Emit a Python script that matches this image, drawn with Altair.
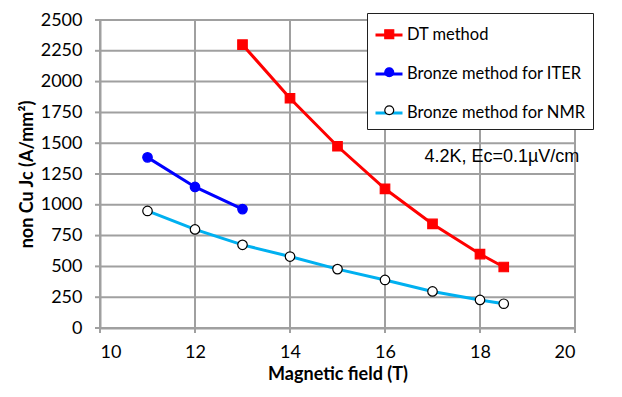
import altair as alt
import pandas as pd

# ---- data ----
series_names = ["DT method", "Bronze method for ITER", "Bronze method for NMR"]
dt_field = [13, 14, 15, 16, 17, 18, 18.5]
dt_jc = [2300, 1865, 1475, 1130, 845, 600, 495]
iter_field = [11, 12, 13]
iter_jc = [1385, 1145, 965]
nmr_field = [11, 12, 13, 14, 15, 16, 17, 18, 18.5]
nmr_jc = [950, 800, 675, 580, 478, 390, 297, 228, 197]
x_ticks = [10, 12, 14, 16, 18, 20]
y_ticks = [0, 250, 500, 750, 1000, 1250, 1500, 1750, 2000, 2250, 2500]
note_text = "4.2K, Ec=0.1\u00b5V/cm"

# marker legend uses a twin domain (trailing space) so it stays a separate legend
marker_names = [s + " " for s in series_names]

rows = []
for name, mname, xs, ys in zip(series_names, marker_names, [dt_field, iter_field, nmr_field],
                               [dt_jc, iter_jc, nmr_jc]):
    for x, y in zip(xs, ys):
        rows.append({"field": x, "jc": y, "series": name, "series2": mname})
df = pd.DataFrame(rows)
xt_df = pd.DataFrame({"field": x_ticks})
yt_df = pd.DataFrame({"jc": y_ticks})

line_colors = ["#FF0000", "#0000FF", "#00B0F0"]
pt_fill = ["#FF0000", "#0000FF", "#FFFFFF"]
pt_stroke = ["#FF0000", "#0000FF", "#000000"]
pt_shape = ["square", "circle", "circle"]

FONT = "Lato"
W, H = 475, 308
LX, LY = 267, -7
GRID = "#A0A0A0"

x_scale = alt.Scale(domain=[x_ticks[0], x_ticks[-1]], nice=False, zero=False)
y_scale = alt.Scale(domain=[y_ticks[0], y_ticks[-1]], nice=False)
x_axis = alt.Axis(values=x_ticks, title="Magnetic field (T)", format="d", grid=False,
                  ticks=False, labelOverlap=False)
y_axis = alt.Axis(values=y_ticks, title="non Cu Jc (A/mm\u00b2)", format="d", grid=False,
                  ticks=False, labelOverlap=False)

def X():
    return alt.X("field:Q", scale=x_scale, axis=x_axis)

def Y():
    return alt.Y("jc:Q", scale=y_scale, axis=y_axis)

# gridlines (full-span rules) and tick marks, drawn from the tick values through the scales
x_grid = alt.Chart(xt_df).mark_rule(color=GRID, strokeWidth=2).encode(x=X())
y_grid = alt.Chart(yt_df).mark_rule(color=GRID, strokeWidth=2).encode(y=Y())
x_tk = alt.Chart(xt_df).mark_rule(color=GRID, strokeWidth=2).encode(
    x=X(), y=alt.value(H), y2=alt.value(H + 5))
y_tk = alt.Chart(yt_df).mark_rule(color=GRID, strokeWidth=2).encode(
    y=Y(), x=alt.value(-5), x2=alt.value(0))

line_legend = alt.Legend(title=None, orient="none", legendX=LX, legendY=LY,
                         symbolType="stroke", symbolSize=729, symbolStrokeWidth=3,
                         fillColor="white", strokeColor="#202020", padding=7,
                         labelFont=FONT, labelFontSize=16.5, labelColor="black",
                         labelOffset=3, rowPadding=15, labelLimit=300)

pt_legend = alt.Legend(title=None, orient="none", legendX=LX + 7, legendY=LY + 6,
                       padding=7, symbolSize=80, symbolStrokeWidth=1.2,
                       labelFont=FONT, labelFontSize=16.5, labelColor="transparent",
                       labelOffset=12, rowPadding=21, labelLimit=300)

lines = alt.Chart(df).mark_line(strokeWidth=3).encode(
    x=X(), y=Y(),
    color=alt.Color("series:N", sort=series_names,
                    scale=alt.Scale(domain=series_names, range=line_colors),
                    legend=line_legend),
    detail="series:N",
)

points = alt.Chart(df).mark_point(filled=True, size=90, strokeWidth=1.2, opacity=1).encode(
    x=X(), y=Y(),
    shape=alt.Shape("series2:N", sort=marker_names,
                    scale=alt.Scale(domain=marker_names, range=pt_shape),
                    legend=pt_legend),
    fill=alt.Fill("series2:N", sort=marker_names,
                  scale=alt.Scale(domain=marker_names, range=pt_fill),
                  legend=pt_legend),
    stroke=alt.Stroke("series2:N", sort=marker_names,
                      scale=alt.Scale(domain=marker_names, range=pt_stroke),
                      legend=pt_legend),
)

note_df = pd.DataFrame({"field": [16.83], "jc": [1390], "text": [note_text]})
note = alt.Chart(note_df).mark_text(align="left", baseline="middle", font="Liberation Sans",
                                    fontSize=18, color="black").encode(
    x=X(), y=Y(), text="text:N")

chart = alt.layer(x_grid, y_grid, x_tk, y_tk, lines, points, note).properties(
    width=W, height=H,
    autosize=alt.AutoSizeParams(type="none"),
    padding={"left": 92, "top": 12, "right": 30, "bottom": 60},
).configure_view(stroke=None).configure_axis(
    domainColor=GRID, domainWidth=2,
    labelFont=FONT, labelFontSize=18, labelColor="black",
    titleFont=FONT, titleFontSize=18, titleFontWeight="bold", titleColor="black",
).configure_axisX(labelPadding=15, titlePadding=4
).configure_axisY(labelPadding=18, titlePadding=4)

chart.save("out.html", embed_options={"renderer": "svg", "actions": False})
